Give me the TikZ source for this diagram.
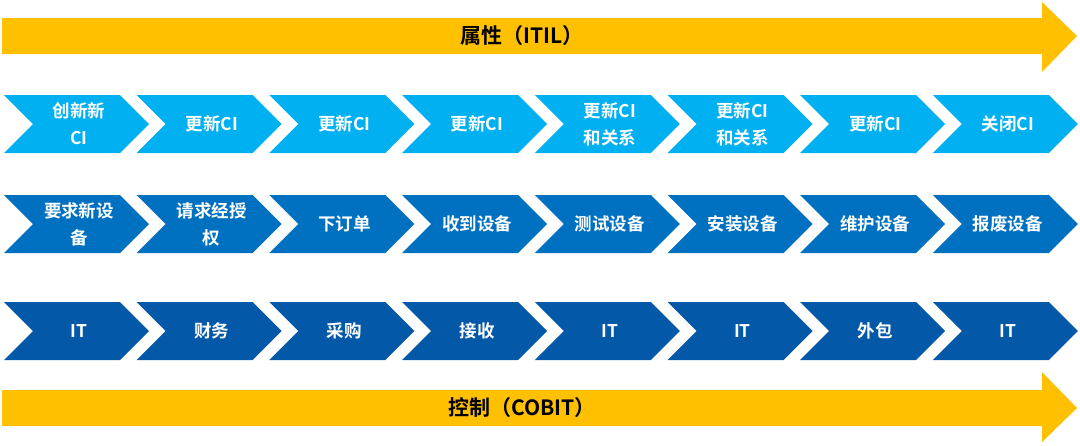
\documentclass[tikz,border=0pt]{standalone}
\usepackage{fontspec}
\setmainfont{Noto Sans CJK SC}[BoldFont={* Bold}]
\begin{document}
\begin{tikzpicture}[x=1pt,y=-1pt,
  lbl/.style={text=white,font=\bfseries\fontsize{17.5}{27}\selectfont,align=center},
  ttl/.style={text=black,font=\bfseries\fontsize{21}{24}\selectfont}]
\useasboundingbox (0,0) rectangle (1080,445);
\definecolor{ylw}{HTML}{FFC000}
\definecolor{cA}{HTML}{00B0F0}
\definecolor{cB}{HTML}{0070C0}
\definecolor{cC}{HTML}{0458A8}
\fill[ylw] (2,18) -- (1042,18) -- (1042,2) -- (1077,36) -- (1042,72) -- (1042,54) -- (2,54) -- cycle;
\node[ttl] (t1) at (522,36) {属性（ITIL）};
\fill[ylw] (2,390) -- (1042,390) -- (1042,372) -- (1077,408) -- (1042,442) -- (1042,426) -- (2,426) -- cycle;
\node[ttl] (t2) at (522,408) {控制（COBIT）};
\newcommand{\chev}[5]{%
  \pgfmathsetmacro{\xa}{4+#1*132.7}%
  \fill[#2] (\xa,#3-29) -- (\xa+116,#3-29) -- (\xa+145,#3) -- (\xa+116,#3+29) -- (\xa,#3+29) -- (\xa+29,#3) -- cycle;
  \node[lbl] (#5) at (\xa+75,#3) {#4};}
\foreach \i/\t in {0/创新新\\CI,1/更新CI,2/更新CI,3/更新CI,4/更新CI\\和关系,5/更新CI\\和关系,6/更新CI,7/关闭CI}{\chev{\i}{cA}{124}{\t}{a\i}}
\foreach \i/\t in {0/要求新设\\备,1/请求经授\\权,2/下订单,3/收到设备,4/测试设备,5/安装设备,6/维护设备,7/报废设备}{\chev{\i}{cB}{224}{\t}{b\i}}
\foreach \i/\t in {0/IT,1/财务,2/采购,3/接收,4/IT,5/IT,6/外包,7/IT}{\chev{\i}{cC}{331}{\t}{c\i}}
\end{tikzpicture}
\end{document}
